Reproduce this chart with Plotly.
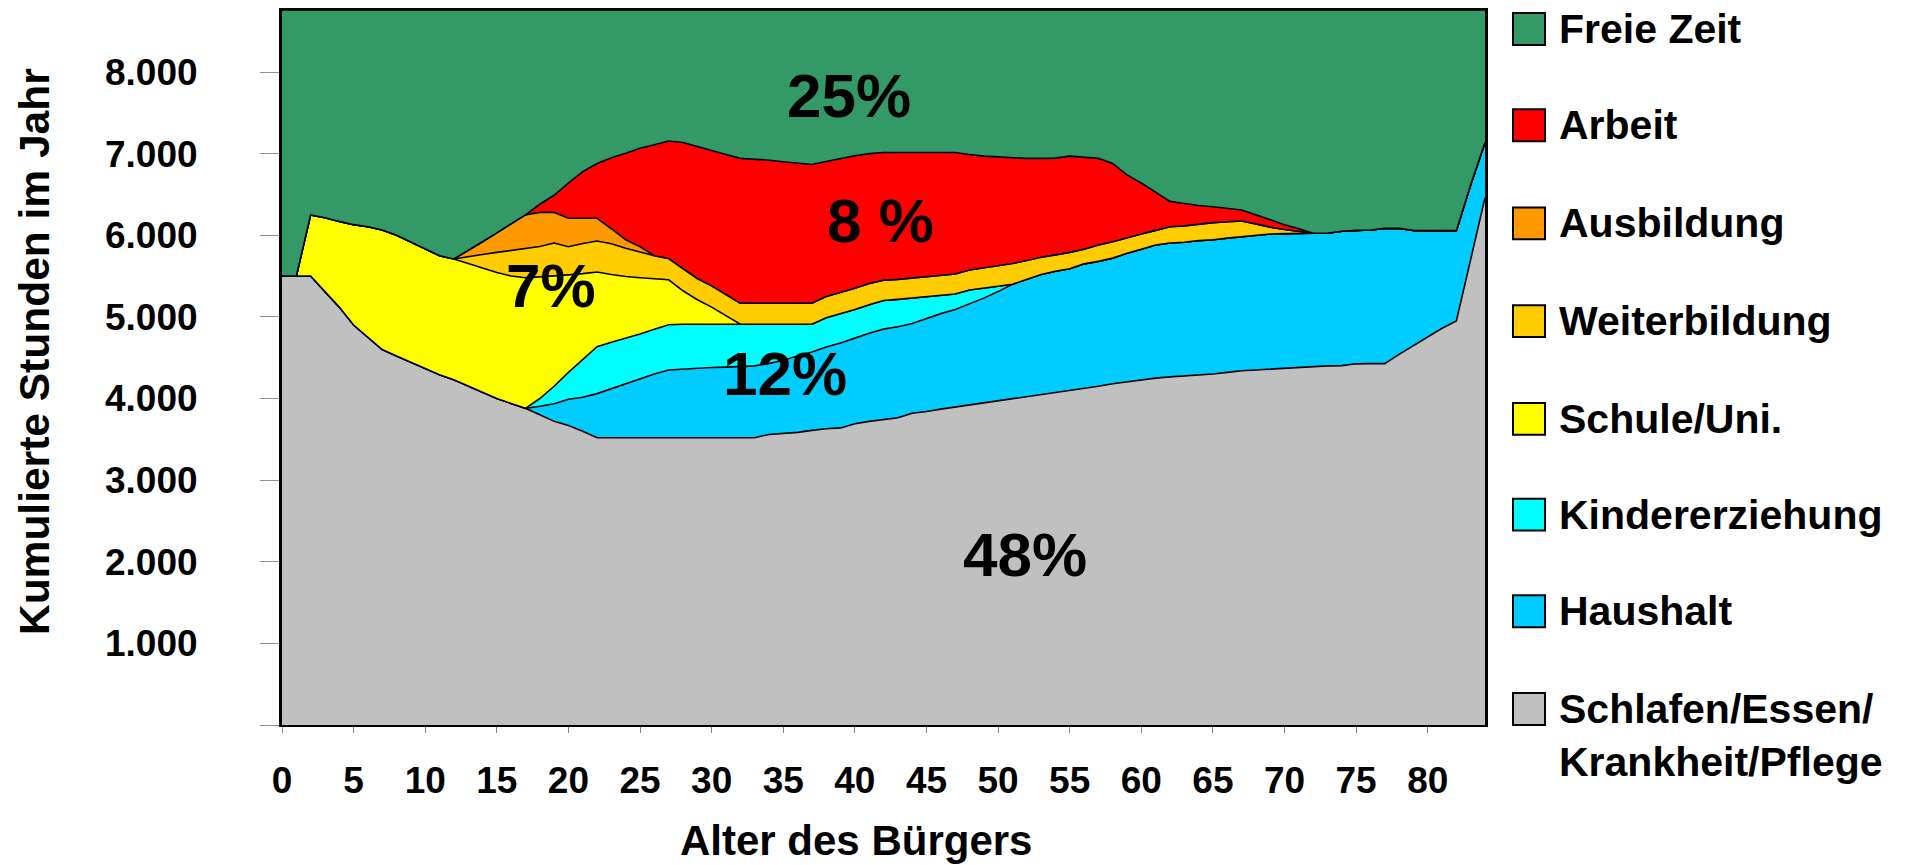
import plotly.graph_objects as go

# ---------------- data (hours per year, by age) ----------------
ages = list(range(85))

schlafen = [5500, 5500, 5500, 5310, 5120, 4900, 4750, 4600, 4520, 4440,
            4360, 4290, 4230, 4150, 4070, 4000, 3940, 3880, 3800, 3720,
            3670, 3600, 3520, 3520, 3520, 3520, 3520, 3520, 3520, 3520,
            3520, 3520, 3520, 3520, 3560, 3575, 3585, 3610, 3630, 3640,
            3690, 3720, 3745, 3765, 3820, 3840, 3870, 3895, 3920, 3945,
            3970, 3995, 4020, 4045, 4070, 4095, 4120, 4150, 4180, 4205,
            4230, 4250, 4265, 4275, 4290, 4300, 4320, 4340, 4350, 4360,
            4375, 4385, 4395, 4400, 4403, 4425, 4427, 4427, 4540, 4650,
            4760, 4860, 4950, 5690, 6460]

haushalt = [0, 0, 0, 0, 0, 0, 0, 0, 0, 0,
            0, 0, 0, 0, 0, 0, 0, 0, 105, 215,
            320, 416, 540, 600, 660, 720, 780, 830, 840, 855,
            860, 865, 870, 880, 870, 895, 935, 960, 1000, 1040,
            1050, 1080, 1105, 1115, 1100, 1140, 1170, 1195, 1240, 1285,
            1340, 1405, 1440, 1475, 1490, 1495, 1530, 1530, 1540, 1575,
            1600, 1630, 1640, 1640, 1645, 1645, 1645, 1640, 1645, 1655,
            1645, 1640, 1630, 1625, 1647, 1635, 1638, 1658, 1545, 1410,
            1297, 1197, 1107, 930, 677]

kinder = [0, 0, 0, 0, 0, 0, 0, 0, 0, 0,
          0, 0, 0, 0, 0, 0, 0, 0, 95, 215,
          330, 464, 575, 570, 560, 550, 550, 554, 550, 535,
          530, 525, 520, 510, 480, 440, 390, 340, 360, 360,
          350, 350, 350, 335, 310, 265, 225, 190, 170, 120,
          65, 0, 0, 0, 0, 0, 0, 0, 0, 0,
          0, 0, 0, 0, 0, 0, 0, 0, 0, 0,
          0, 0, 0, 0, 0, 0, 0, 0, 0, 0,
          0, 0, 0, 0, 0]

schule = [0, 0, 750, 905, 1050, 1230, 1355, 1465, 1480, 1475,
          1470, 1460, 1480, 1505, 1530, 1545, 1560, 1600, 1490, 1350,
          1195, 1050, 915, 830, 755, 690, 620, 551, 410, 300,
          210, 105, 0, 0, 0, 0, 0, 0, 0, 0,
          0, 0, 0, 0, 0, 0, 0, 0, 0, 0,
          0, 0, 0, 0, 0, 0, 0, 0, 0, 0,
          0, 0, 0, 0, 0, 0, 0, 0, 0, 0,
          0, 0, 0, 0, 0, 0, 0, 0, 0, 0,
          0, 0, 0, 0, 0]

weiterbildung = [0, 0, 0, 0, 0, 0, 0, 0, 0, 0,
                 0, 0, 0, 85, 165, 245, 315, 360, 372, 405,
                 345, 370, 380, 375, 345, 315, 280, 260, 270, 260,
                 260, 255, 259, 259, 259, 259, 259, 259, 260, 260,
                 260, 260, 250, 245, 245, 245, 240, 245, 245, 250,
                 250, 255, 230, 210, 200, 200, 180, 200, 200, 190,
                 185, 180, 200, 200, 200, 210, 200, 195, 145, 85,
                 50, 20, 0, 0, 0, 0, 0, 0, 0, 0,
                 0, 0, 0, 0, 0]

ausbildung = [0, 0, 0, 0, 0, 0, 0, 0, 0, 0,
              0, 0, 0, 70, 155, 240, 325, 410, 418, 375,
              348, 308, 278, 185, 105, 65, 0, 0, 0, 0,
              0, 0, 0, 0, 0, 0, 0, 0, 0, 0,
              0, 0, 0, 0, 0, 0, 0, 0, 0, 0,
              0, 0, 0, 0, 0, 0, 0, 0, 0, 0,
              0, 0, 0, 0, 0, 0, 0, 0, 0, 0,
              0, 0, 0, 0, 0, 0, 0, 0, 0, 0,
              0, 0, 0, 0, 0]

arbeit = [0, 0, 0, 0, 0, 0, 0, 0, 0, 0,
          0, 0, 0, 0, 0, 0, 0, 0, 100, 210,
          432, 572, 672, 870, 1060, 1205, 1360, 1440, 1547, 1615,
          1660, 1720, 1773, 1766, 1751, 1731, 1716, 1699, 1655, 1642,
          1625, 1590, 1565, 1555, 1540, 1525, 1510, 1490, 1415, 1370,
          1335, 1295, 1252, 1212, 1185, 1180, 1130, 1062, 960, 770,
          625, 470, 310, 275, 230, 195, 165, 135, 110, 90,
          60, 35, 0, 0, 0, 0, 0, 0, 0, 0,
          0, 0, 0, 0, 0]

freie_zeit = [3260, 3260, 2510, 2545, 2590, 2630, 2655, 2695, 2760, 2845,
              2930, 3010, 3050, 2950, 2840, 2730, 2620, 2510, 2380, 2270,
              2120, 1980, 1880, 1810, 1755, 1695, 1650, 1605, 1623, 1675,
              1720, 1770, 1818, 1825, 1840, 1860, 1875, 1892, 1855, 1818,
              1785, 1760, 1745, 1745, 1745, 1745, 1745, 1745, 1770, 1790,
              1800, 1810, 1818, 1818, 1815, 1790, 1800, 1818, 1880, 2020,
              2120, 2230, 2345, 2370, 2395, 2410, 2430, 2450, 2510, 2570,
              2630, 2680, 2735, 2735, 2710, 2700, 2695, 2675, 2675, 2700,
              2703, 2703, 2703, 2140, 1623]

series_names = ["Schlafen/Essen/Krankheit/Pflege", "Haushalt", "Kindererziehung",
                "Schule/Uni.", "Weiterbildung", "Ausbildung", "Arbeit", "Freie Zeit"]
series_values = [schlafen, haushalt, kinder, schule, weiterbildung,
                 ausbildung, arbeit, freie_zeit]
series_colors = ["#C0C0C0", "#00CCFF", "#00FFFF", "#FFFF00", "#FFCC00",
                 "#FF9900", "#FF0000", "#339966"]

legend_labels = ["Freie Zeit", "Arbeit", "Ausbildung", "Weiterbildung", "Schule/Uni.",
                 "Kindererziehung", "Haushalt", "Schlafen/Essen/<br>Krankheit/Pflege"]
legend_colors = ["#339966", "#FF0000", "#FF9900", "#FFCC00", "#FFFF00",
                 "#00FFFF", "#00CCFF", "#C0C0C0"]

pct_labels = ["25%", "8 %", "7%", "12%", "48%"]
pct_x = [39.6, 41.8, 18.8, 35.1, 51.9]
pct_y = [7708, 6180, 5385, 4303, 2085]

y_tickvals = [0, 1000, 2000, 3000, 4000, 5000, 6000, 7000, 8000]
y_ticktext = ["", "1.000", "2.000", "3.000", "4.000", "5.000", "6.000", "7.000", "8.000"]
x_tickvals = list(range(0, 81, 5))

for v in series_values:
    assert len(v) == len(ages)

# ---------------- figure ----------------
FONT = "Arial, Liberation Sans, Helvetica, sans-serif"
W, H = 1917, 865
L, R, T, B = 282, 432, 8, 140
PW, PH = W - L - R, H - T - B


def px_x(x):
    return (x - L) / PW


def px_y(y):
    return (H - B - y) / PH


fig = go.Figure()
for name, vals, col in zip(series_names, series_values, series_colors):
    fig.add_trace(go.Scatter(
        x=ages, y=vals, name=name, stackgroup="one", mode="lines",
        line=dict(color="black", width=1.6), fillcolor=col, showlegend=False,
    ))

annotations = []
for t, x, y in zip(pct_labels, pct_x, pct_y):
    annotations.append(dict(x=x, y=y, xref="x", yref="y", text=t, showarrow=False,
                            font=dict(family=FONT, size=62, color="black", weight="bold"),
                            xanchor="center", yanchor="middle"))

# axis titles
annotations.append(dict(x=px_x(856), y=px_y(841), xref="paper", yref="paper",
                        text="Alter des Bürgers", showarrow=False,
                        font=dict(family=FONT, size=42, color="black", weight="bold"),
                        xanchor="center", yanchor="middle"))
annotations.append(dict(x=px_x(34), y=px_y(351), xref="paper", yref="paper",
                        text="Kumulierte Stunden im Jahr", showarrow=False, textangle=-90,
                        font=dict(family=FONT, size=42.5, color="black", weight="bold"),
                        xanchor="center", yanchor="middle"))

# custom legend
shapes = []
legend_y = [27, 123.5, 222, 320, 418, 514, 611, 709]
for lab, col, yc in zip(legend_labels, legend_colors, legend_y):
    shapes.append(dict(type="rect", xref="paper", yref="paper",
                       x0=px_x(1513), x1=px_x(1545), y0=px_y(yc + 16), y1=px_y(yc - 16),
                       fillcolor=col, line=dict(color="black", width=2)))
    if "<br>" in lab:
        ypos = px_y(yc + 27)
    else:
        ypos = px_y(yc)
    annotations.append(dict(x=px_x(1557), y=ypos, xref="paper", yref="paper",
                            text=lab, showarrow=False, align="left",
                            font=dict(family=FONT, size=41, color="black", weight="bold"),
                            xanchor="left", yanchor="middle"))

fig.update_layout(
    width=W, height=H,
    margin=dict(l=L, r=R, t=T, b=B, pad=0),
    paper_bgcolor="white", plot_bgcolor="white",
    showlegend=False,
    annotations=annotations, shapes=shapes,
    hovermode=False,
)
fig.update_xaxes(
    range=[0, 84], tickvals=x_tickvals, ticktext=[str(v) for v in x_tickvals],
    ticks="outside", ticklen=6, tickcolor="#808080", tickwidth=1,
    showgrid=False, zeroline=False,
    showline=True, linecolor="black", linewidth=2, mirror=True,
    tickfont=dict(family=FONT, size=37, color="black", weight="bold"),
    ticklabelstandoff=16,
)
fig.update_yaxes(
    range=[0, 8760], tickvals=y_tickvals, ticktext=y_ticktext,
    ticks="outside", ticklen=19, tickcolor="#909090", tickwidth=1,
    showgrid=False, zeroline=False,
    showline=True, linecolor="black", linewidth=3, mirror=True,
    tickfont=dict(family=FONT, size=37, color="black", weight="bold"),
    ticklabelstandoff=55,
)

fig.write_html("out.html", include_plotlyjs=True, config={"displayModeBar": False},
               post_script="document.body.style.margin='0';document.body.style.overflow='hidden';")
